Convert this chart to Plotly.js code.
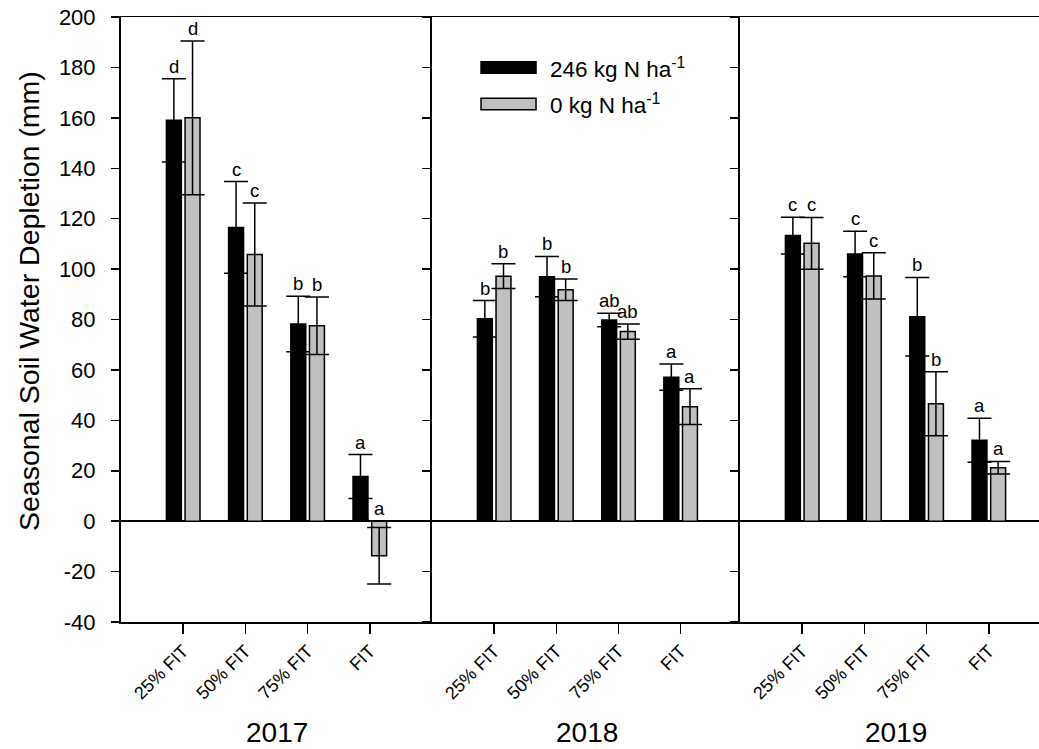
<!DOCTYPE html>
<html>
<head>
<meta charset="utf-8">
<script src="https://cdn.plot.ly/plotly-3.0.1.min.js"></script>
<style>html,body{margin:0;padding:0;background:#fff;}#chart{width:1039px;height:749px;}</style>
</head>
<body>
<div id="chart"></div>
<script>
// ---- data ----
const categories = ["25% FIT", "50% FIT", "75% FIT", "FIT"];
const years = ["2017", "2018", "2019"];
const seriesNames = ["246 kg N ha<sup>-1</sup>", "0 kg N ha<sup>-1</sup>"];
const yTickVals = [-40, -20, 0, 20, 40, 60, 80, 100, 120, 140, 160, 180, 200];
const yTickText = ["-40", "-20", "0", "20", "40", "60", "80", "100", "120", "140", "160", "180", "200"];
const yTitle = "Seasonal Soil Water Depletion (mm)";

const n246_2017 = [159.0, 116.5, 78.2, 17.7];
const n246_2017_err = [16.5, 18.2, 11.0, 8.7];
const n0_2017 = [160.0, 105.8, 77.5, -13.7];
const n0_2017_err = [30.5, 20.4, 11.4, 11.2];

const n246_2018 = [80.3, 97.0, 79.8, 57.1];
const n246_2018_err = [7.2, 8.0, 2.7, 5.2];
const n0_2018 = [97.2, 91.8, 75.2, 45.4];
const n0_2018_err = [4.9, 4.3, 3.0, 7.1];

const n246_2019 = [113.3, 106.0, 81.1, 32.1];
const n246_2019_err = [7.3, 9.0, 15.6, 8.7];
const n0_2019 = [110.2, 97.3, 46.6, 21.2];
const n0_2019_err = [10.3, 9.2, 12.7, 2.5];

const letters246_2017 = ["d", "c", "b", "a"];
const letters0_2017 = ["d", "c", "b", "a"];
const letters246_2018 = ["b", "b", "ab", "a"];
const letters0_2018 = ["b", "b", "ab", "a"];
const letters246_2019 = ["c", "c", "b", "a"];
const letters0_2019 = ["c", "c", "b", "a"];

// ---- assemble ----
const FONT = "Liberation Sans, Arial, Helvetica, sans-serif";
const colors = ["#000000", "#c0c0c0"];
const panels = [
  {v: [n246_2017, n0_2017], e: [n246_2017_err, n0_2017_err], l: [letters246_2017, letters0_2017]},
  {v: [n246_2018, n0_2018], e: [n246_2018_err, n0_2018_err], l: [letters246_2018, letters0_2018]},
  {v: [n246_2019, n0_2019], e: [n246_2019_err, n0_2019_err], l: [letters246_2019, letters0_2019]}
];

const traces = [];
const annotations = [];
panels.forEach((p, pi) => {
  const xa = pi === 0 ? "x" : "x" + (pi + 1);
  const ya = pi === 0 ? "y" : "y" + (pi + 1);
  for (let s = 0; s < 2; s++) {
    traces.push({
      type: "bar",
      name: seriesNames[s],
      x: categories,
      y: p.v[s],
      xaxis: xa,
      yaxis: ya,
      showlegend: false,
      marker: {color: colors[s], line: {color: "#000", width: 1.5}},
      error_y: {type: "data", array: p.e[s], visible: true, color: "#000", thickness: 1.5, width: 12}
    });
    p.l[s].forEach((txt, i) => {
      annotations.push({
        xref: xa, yref: ya,
        x: i + (s === 0 ? -0.15 : 0.15),
        y: Math.max(p.v[s][i] + p.e[s][i], 0),
        text: txt, showarrow: false,
        yanchor: "bottom", xanchor: "center", yshift: 0,
        font: {family: FONT, size: 18.5, color: "#000"}
      });
    });
  }
  annotations.push({
    xref: xa, yref: "paper", x: 1.5, y: -0.183,
    text: years[pi], showarrow: false, xanchor: "center", yanchor: "middle",
    font: {family: FONT, size: 28, color: "#000"}
  });
});

// y-axis title
annotations.push({
  xref: "paper", yref: "paper", x: -0.101, y: 0.531,
  text: yTitle, textangle: -90, showarrow: false,
  xanchor: "center", yanchor: "middle",
  font: {family: FONT, size: 28.5, color: "#000"}
});

// legend (drawn manually so the swatches match the wide rectangles)
const legendRows = [0.9165, 0.8562];
const shapes = [];
legendRows.forEach((yc, s) => {
  shapes.push({type: "rect", xref: "paper", yref: "paper",
    x0: 0.3922, x1: 0.4521, y0: yc - 0.0095, y1: yc + 0.0095,
    fillcolor: colors[s], line: {color: "#000", width: 1.5}});
  annotations.push({xref: "paper", yref: "paper", x: 0.4651, y: yc,
    text: seriesNames[s], showarrow: false, xanchor: "left", yanchor: "middle",
    font: {family: FONT, size: 22.5, color: "#000"}});
});

const xBase = {
  type: "category", tickangle: -45, ticks: "outside", ticklen: 10, tickwidth: 1.5,
  tickcolor: "#000", showline: true, mirror: true, linecolor: "#000", linewidth: 1.5,
  showgrid: false, zeroline: false, tickfont: {family: FONT, size: 18, color: "#000"}
};
const yBase = {
  range: [-40, 200], tickmode: "array", tickvals: yTickVals, ticktext: yTickText,
  ticks: "outside", ticklen: 8, tickwidth: 1.5,
  tickcolor: "#000", showline: true, linecolor: "#000", linewidth: 2,
  showgrid: false, zeroline: true, zerolinecolor: "#000", zerolinewidth: 1.5,
  tickfont: {family: FONT, size: 22, color: "#000"}
};

const layout = {
  width: 1039, height: 749,
  margin: {l: 121, r: 0, t: 17, b: 127, pad: 0},
  paper_bgcolor: "#fff", plot_bgcolor: "#fff",
  barmode: "group", bargap: 0.4, bargroupgap: 0.2,
  showlegend: false,
  font: {family: FONT, color: "#000"},
  xaxis: Object.assign({}, xBase, {domain: [0, 0.3388], range: [-1, 4], anchor: "y"}),
  xaxis2: Object.assign({}, xBase, {domain: [0.3388, 0.6743], range: [-1, 3.955], anchor: "y2"}),
  xaxis3: Object.assign({}, xBase, {domain: [0.6743, 1], range: [-1, 3.807], anchor: "y3"}),
  yaxis: Object.assign({}, yBase, {anchor: "x", ticklabelstandoff: 11}),
  yaxis2: Object.assign({}, yBase, {anchor: "x2", showticklabels: false}),
  yaxis3: Object.assign({}, yBase, {anchor: "x3", showticklabels: false}),
  annotations: annotations,
  shapes: shapes
};

Plotly.newPlot("chart", traces, layout, {displayModeBar: false, staticPlot: true});
</script>
</body>
</html>
